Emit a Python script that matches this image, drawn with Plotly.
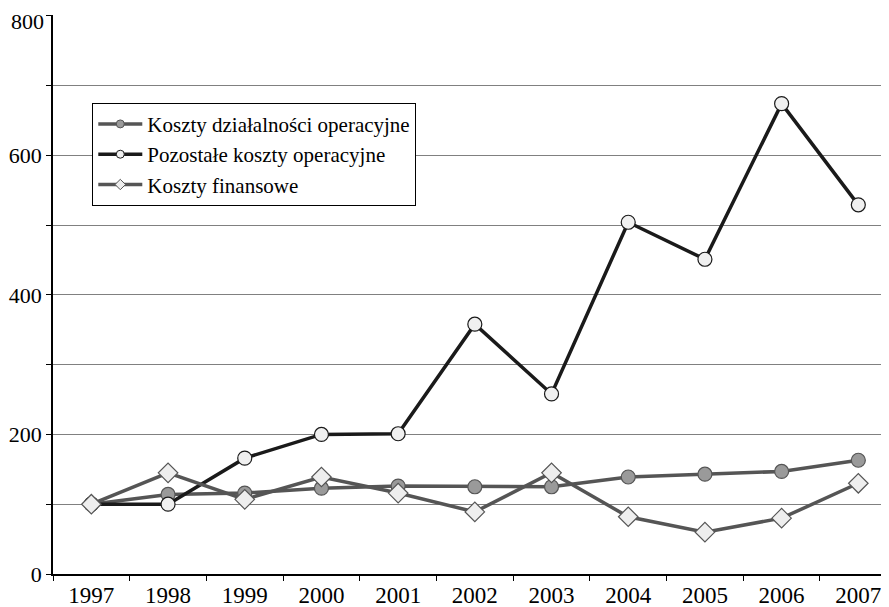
import plotly.graph_objects as go

years = [1997, 1998, 1999, 2000, 2001, 2002, 2003, 2004, 2005, 2006, 2007]
koszty_dzialalnosci = [100, 114, 116, 123, 126, 125, 125, 139, 143, 147, 163]
pozostale = [100, 100, 166, 200, 201, 358, 258, 504, 451, 674, 529]
finansowe = [100, 145, 107, 139, 116, 89, 145, 82, 60, 80, 130]

y_tickvals = [0, 100, 200, 300, 400, 500, 600, 700, 800]
y_ticktext = ["0", "", "200", "", "400", "", "600", "", ""]
y_top_label = "800"
x_boundaries = [1996.5 + i for i in range(12)]

serif = "Liberation Serif"

series = [
    ("Koszty działalności operacyjne", koszty_dzialalnosci, "#555555", "circle", 14, "#9a9a9a", "#555555"),
    ("Pozostałe koszty operacyjne", pozostale, "#1a1a1a", "circle", 14, "#f0f0f0", "#1a1a1a"),
    ("Koszty finansowe", finansowe, "#555555", "diamond", 15, "#eeeeee", "#555555"),
]

fig = go.Figure()
for name, vals, lc, sym, sz, fc, oc in series:
    fig.add_trace(go.Scatter(
        x=years, y=vals, name=name, mode="lines+markers", showlegend=False,
        line=dict(color=lc, width=3.5),
        marker=dict(symbol=sym, size=sz, color=fc, line=dict(color=oc, width=1.2)),
    ))
for name, vals, lc, sym, sz, fc, oc in series:
    fig.add_trace(go.Scatter(
        x=[None], y=[None], name=name, mode="lines+markers", showlegend=True,
        line=dict(color=lc, width=3.5),
        marker=dict(symbol=sym, size=8, color=fc, line=dict(color=oc, width=1)),
    ))

fig.add_annotation(
    x=0, xref="paper", y=800, yref="y", text=y_top_label, showarrow=False,
    xanchor="right", yanchor="middle", xshift=-7, yshift=-6,
    font=dict(family=serif, size=22, color="black"),
)

fig.update_layout(
    width=881, height=599,
    margin=dict(l=45, r=0, t=7, b=33),
    paper_bgcolor="white", plot_bgcolor="white",
    font=dict(family=serif, color="black"),
    legend=dict(
        x=0.047, y=0.843, xanchor="left", yanchor="top",
        bgcolor="white", bordercolor="black", borderwidth=1,
        font=dict(family=serif, size=21, color="black"),
        tracegroupgap=0, itemwidth=44,
    ),
    xaxis=dict(
        range=[1996.5, 2007.4], automargin=False, ticklabeloverflow="allow",
        tickmode="array", tickvals=years, ticktext=[str(y) for y in years],
        ticks="", showgrid=False, zeroline=False,
        showline=True, linecolor="black", linewidth=1.5,
        tickfont=dict(family=serif, size=23, color="black"),
        minor=dict(tickmode="array", tickvals=x_boundaries, ticks="outside",
                   ticklen=5, tickcolor="black", tickwidth=1, showgrid=False),
    ),
    yaxis=dict(
        range=[0, 801], automargin=False, ticklabeloverflow="allow",
        tickmode="array", tickvals=y_tickvals, ticktext=y_ticktext,
        ticks="outside", ticklen=5, tickcolor="black", tickwidth=1,
        showgrid=True, gridcolor="#808080", gridwidth=1,
        zeroline=False, showline=True, linecolor="black", linewidth=1.5,
        tickfont=dict(family=serif, size=22, color="black"),
    ),
)

fig.write_html("out.html")
